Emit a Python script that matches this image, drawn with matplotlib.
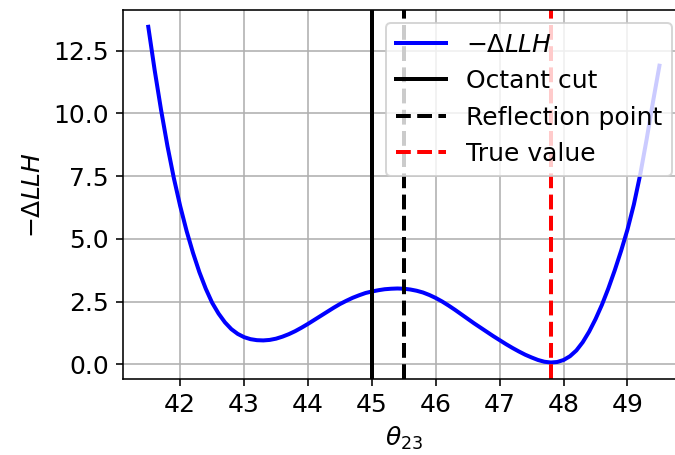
import matplotlib
matplotlib.use("Agg")
import matplotlib.pyplot as plt
from matplotlib.ticker import MultipleLocator

# theta_23 scan and the -Delta LLH profile along it
theta = [41.5, 41.6, 41.7, 41.8, 41.9, 42.0, 42.1, 42.2, 42.3, 42.4,
         42.5, 42.6, 42.7, 42.8, 42.9, 43.0, 43.1, 43.2, 43.3, 43.4,
         43.5, 43.6, 43.7, 43.8, 43.9, 44.0, 44.1, 44.2, 44.3, 44.4,
         44.5, 44.6, 44.7, 44.8, 44.9, 45.0, 45.1, 45.2, 45.3, 45.4,
         45.5, 45.6, 45.7, 45.8, 45.9, 46.0, 46.1, 46.2, 46.3, 46.4,
         46.5, 46.6, 46.7, 46.8, 46.9, 47.0, 47.1, 47.2, 47.3, 47.4,
         47.5, 47.6, 47.7, 47.8, 47.9, 48.0, 48.1, 48.2, 48.3, 48.4,
         48.5, 48.6, 48.7, 48.8, 48.9, 49.0, 49.1, 49.2, 49.3, 49.4,
         49.5]
dllh = [13.45, 11.72, 10.14, 8.70, 7.42, 6.30, 5.31, 4.44, 3.67, 3.01,
        2.45, 2.02, 1.67, 1.40, 1.21, 1.08, 1.00, 0.96, 0.95, 0.97,
        1.02, 1.10, 1.20, 1.32, 1.46, 1.61, 1.77, 1.93, 2.09, 2.25,
        2.40, 2.53, 2.65, 2.75, 2.84, 2.90, 2.95, 2.99, 3.01, 3.02,
        3.01, 2.98, 2.93, 2.86, 2.76, 2.64, 2.50, 2.34, 2.17, 1.99,
        1.81, 1.63, 1.46, 1.29, 1.12, 0.96, 0.80, 0.65, 0.51, 0.38,
        0.27, 0.17, 0.10, 0.07, 0.09, 0.17, 0.32, 0.55, 0.88, 1.30,
        1.80, 2.37, 3.02, 3.74, 4.52, 5.37, 6.37, 7.57, 8.97, 10.47,
        11.90]

octant_cut = 45.0
reflection_point = 45.5
true_value = 47.8

plt.rcParams['font.size'] = 12.5

fig = plt.figure(figsize=(675 / 144, 455 / 144), dpi=144)
ax = fig.add_axes([0.1818, 0.1664, 0.833, 0.8116])

ax.plot(theta, dllh, color='blue', linewidth=2, label=r'$-\Delta LLH$')
ax.axvline(octant_cut, color='black', linewidth=2, label='Octant cut')
ax.axvline(reflection_point, color='black', linestyle='--', linewidth=2,
           label='Reflection point')
ax.axvline(true_value, color='red', linestyle='--', linewidth=2,
           label='True value')

ax.xaxis.set_major_locator(MultipleLocator(1))
ax.set_xlabel(r'$\theta_{23}$')
ax.set_ylabel(r'$-\Delta LLH$')
ax.grid(True)
ax.legend(loc='upper right')

fig.savefig('out.png', dpi=144)
